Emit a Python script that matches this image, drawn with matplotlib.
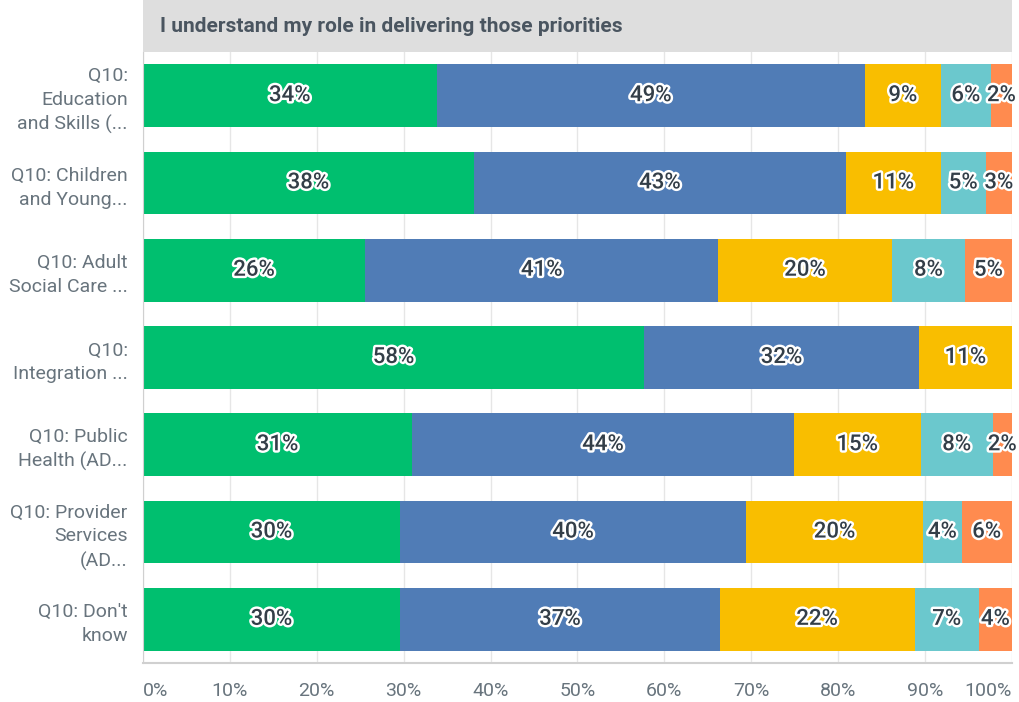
import matplotlib
matplotlib.use('Agg')
import matplotlib.pyplot as plt
import matplotlib.patheffects as pe
from matplotlib.patches import Rectangle

plt.rcParams['font.family'] = ['Roboto', 'DejaVu Sans']

title = 'I understand my role in delivering those priorities'
groups = ['Q10:\nEducation\nand Skills (...', 'Q10: Children\nand Young...',
          'Q10: Adult\nSocial Care ...', 'Q10:\nIntegration ...',
          'Q10: Public\nHealth (AD...', 'Q10: Provider\nServices\n(AD...',
          "Q10: Don't\nknow"]
answers = ['Strongly agree', 'Agree', 'Neither', 'Disagree', 'Strongly disagree']
strongly_agree = [33.8, 38.1, 25.6, 57.7, 31.0, 29.6, 29.6]
agree = [49.3, 42.8, 40.6, 31.6, 43.9, 39.8, 36.8]
neither = [8.7, 10.9, 20.0, 10.7, 14.6, 20.4, 22.4]
disagree = [5.8, 5.2, 8.4, 0.0, 8.3, 4.4, 7.4]
strongly_disagree = [2.4, 3.0, 5.4, 0.0, 2.2, 5.8, 3.8]
xticks = [0, 10, 20, 30, 40, 50, 60, 70, 80, 90, 100]

series = [strongly_agree, agree, neither, disagree, strongly_disagree]
colors = ['#00bf6f', '#507cb6', '#f9be00', '#6bc8cd', '#ff8b4f']

fig = plt.figure(figsize=(10.19, 7.02), dpi=100)
ax = fig.add_axes([0.1403, 0.0556, 0.8528, 0.8703])

# title band across the top of the plot area
fig.patches.append(Rectangle((0.1403, 0.9259), 0.8528, 0.0741,
                             transform=fig.transFigure, facecolor='#dedede',
                             edgecolor='none', zorder=0))
fig.text(0.157, 0.962, title, fontsize=15, fontweight='bold',
         color='#4a5560', va='center', ha='left')

y = list(range(len(groups)))
left = [0.0] * len(groups)
for name, vals, col in zip(answers, series, colors):
    ax.barh(y, vals, left=left, height=0.72, color=col, label=name, zorder=2)
    for i, v in enumerate(vals):
        if v > 0:
            ax.text(left[i] + v / 2, i, f'{round(v)}%', ha='center', va='center',
                    fontsize=16, color='#333e48', fontweight='medium', zorder=3,
                    path_effects=[pe.withStroke(linewidth=3.5, foreground='white')])
    left = [a + b for a, b in zip(left, vals)]

ax.set_ylim(len(groups) - 0.5, -0.5)
ax.set_xlim(0, 100)
ax.set_yticks(y)
ax.set_yticklabels(groups, fontsize=14, color='#68747d', linespacing=1.4)
ax.set_xticks(xticks)
ax.set_xticklabels([f'{t}%' for t in xticks], fontsize=14, color='#68747d')
# end labels sit inside the plot width
xlabels = ax.get_xticklabels()
xlabels[0].set_horizontalalignment('left')
xlabels[-1].set_horizontalalignment('right')
ax.tick_params(axis='both', length=0)
ax.tick_params(axis='x', pad=14)
ax.tick_params(axis='y', pad=11)

ax.grid(True, axis='x', color='#e6e6e6', linewidth=1, zorder=0)
ax.set_axisbelow(True)
for s in ['top', 'right']:
    ax.spines[s].set_visible(False)
ax.spines['left'].set_color('#d0d0d0')
ax.spines['bottom'].set_color('#d0d0d0')
ax.spines['bottom'].set_linewidth(1.5)

fig.savefig('out.png', dpi=100)
